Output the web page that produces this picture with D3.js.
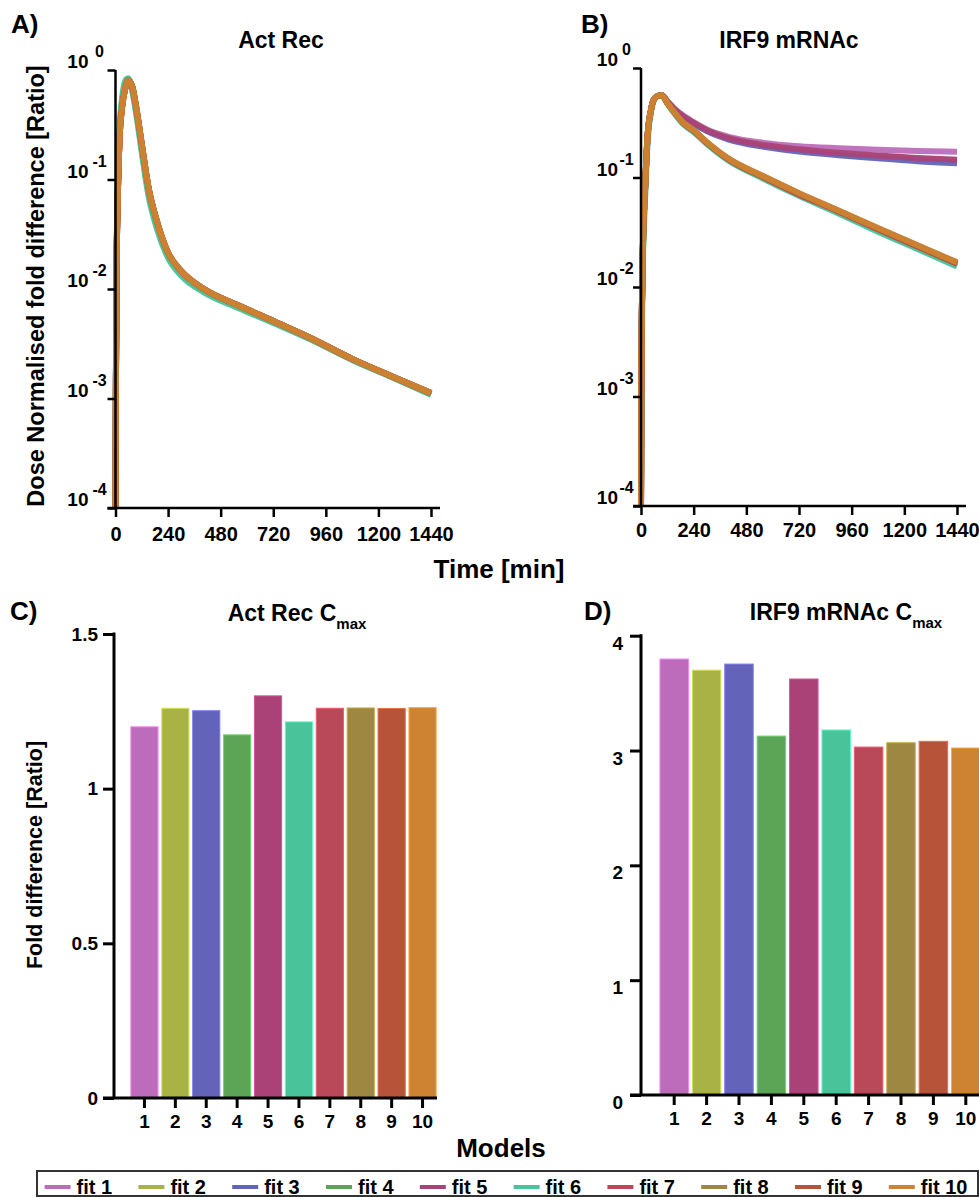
<!DOCTYPE html>
<html>
<head>
<meta charset="utf-8">
<script src="https://cdn.jsdelivr.net/npm/d3@7"></script>
<style>
  body { margin: 0; background: #fff; }
  svg text { font-family: "Liberation Sans", Arial, Helvetica, sans-serif; font-weight: bold; fill: #000; }
</style>
</head>
<body>
<svg id="fig" width="979" height="1197"></svg>
<script>
// ---- data ----
const fitNames = ["fit 1", "fit 2", "fit 3", "fit 4", "fit 5", "fit 6", "fit 7", "fit 8", "fit 9", "fit 10"];
const fitColors = ["#bd6bbb", "#a8b245", "#6263b9", "#5ca556", "#aa4278", "#49c39a", "#b94858", "#9e8740", "#b75338", "#cd8332"];
const modelIds = [1, 2, 3, 4, 5, 6, 7, 8, 9, 10];

const timeTicks = [0, 240, 480, 720, 960, 1200, 1440];
const logTicks = [1e-4, 1e-3, 1e-2, 1e-1, 1];
const logExponents = ["-4", "-3", "-2", "-1", "0"];

// sampling times (min) for the simulated time courses
const sampleTimes = [0, 2, 5, 10, 18, 30, 45, 58, 75, 95, 120, 150, 190, 240, 300, 400, 560, 720, 900, 1080, 1260, 1440];

// Act Rec, dose normalised fold difference, one row per fit
const actRecCurves = [
  [0.0001, 0.0016, 0.016, 0.068, 0.24, 0.49, 0.72, 0.81, 0.71, 0.43, 0.198, 0.081, 0.039, 0.0207, 0.0141, 0.0099, 0.0070, 0.0050, 0.00345, 0.00228, 0.00158, 0.00110],
  [0.0001, 0.0015, 0.015, 0.064, 0.23, 0.47, 0.70, 0.80, 0.72, 0.44, 0.205, 0.084, 0.040, 0.0212, 0.0144, 0.0100, 0.0071, 0.0051, 0.0035, 0.0023, 0.0016, 0.00111],
  [0.0001, 0.0016, 0.016, 0.066, 0.235, 0.48, 0.71, 0.81, 0.71, 0.43, 0.200, 0.082, 0.0395, 0.0209, 0.0143, 0.0100, 0.0070, 0.0050, 0.00345, 0.00229, 0.00159, 0.00110],
  [0.0001, 0.0017, 0.017, 0.070, 0.25, 0.50, 0.73, 0.82, 0.70, 0.42, 0.192, 0.078, 0.038, 0.0203, 0.0139, 0.0098, 0.0069, 0.0050, 0.0034, 0.00227, 0.00158, 0.00109],
  [0.0001, 0.0015, 0.015, 0.063, 0.225, 0.46, 0.69, 0.80, 0.72, 0.45, 0.208, 0.085, 0.0405, 0.0213, 0.0145, 0.0101, 0.0071, 0.0051, 0.0035, 0.0023, 0.0016, 0.00112],
  [0.0001, 0.0020, 0.020, 0.080, 0.28, 0.55, 0.80, 0.84, 0.66, 0.39, 0.175, 0.072, 0.035, 0.0192, 0.0132, 0.0094, 0.0067, 0.0049, 0.0034, 0.00225, 0.00157, 0.00108],
  [0.0001, 0.0015, 0.015, 0.062, 0.225, 0.455, 0.685, 0.80, 0.72, 0.45, 0.210, 0.086, 0.041, 0.0214, 0.0146, 0.0101, 0.0071, 0.0051, 0.0035, 0.0023, 0.0016, 0.00112],
  [0.0001, 0.0015, 0.015, 0.061, 0.222, 0.452, 0.682, 0.80, 0.72, 0.45, 0.210, 0.086, 0.041, 0.0215, 0.0146, 0.0101, 0.0071, 0.0051, 0.0035, 0.0023, 0.0016, 0.00112],
  [0.0001, 0.0015, 0.015, 0.062, 0.224, 0.455, 0.684, 0.80, 0.72, 0.45, 0.209, 0.086, 0.041, 0.0214, 0.0146, 0.0101, 0.0071, 0.0051, 0.0035, 0.0023, 0.0016, 0.00112],
  [0.0001, 0.0015, 0.015, 0.060, 0.22, 0.45, 0.68, 0.80, 0.72, 0.45, 0.210, 0.086, 0.041, 0.0215, 0.0146, 0.0101, 0.0071, 0.0051, 0.0035, 0.0023, 0.0016, 0.00112]
];

// IRF9 mRNAc, dose normalised fold difference, one row per fit
const irf9Curves = [
  [0.0001, 0.0020, 0.0085, 0.030, 0.075, 0.24, 0.41, 0.515, 0.555, 0.565, 0.50, 0.43, 0.37, 0.32, 0.275, 0.235, 0.207, 0.193, 0.185, 0.179, 0.175, 0.172],
  [0.0001, 0.0020, 0.0085, 0.030, 0.075, 0.24, 0.41, 0.515, 0.555, 0.565, 0.495, 0.425, 0.365, 0.315, 0.27, 0.228, 0.197, 0.179, 0.166, 0.157, 0.149, 0.143],
  [0.0001, 0.0020, 0.0085, 0.030, 0.075, 0.24, 0.41, 0.515, 0.555, 0.565, 0.49, 0.42, 0.36, 0.31, 0.265, 0.222, 0.191, 0.173, 0.160, 0.150, 0.141, 0.135],
  [0.0001, 0.0018, 0.0075, 0.027, 0.068, 0.225, 0.40, 0.51, 0.552, 0.562, 0.477, 0.395, 0.315, 0.263, 0.205, 0.144, 0.099, 0.069, 0.048, 0.033, 0.0228, 0.0158],
  [0.0001, 0.0020, 0.0085, 0.030, 0.075, 0.24, 0.41, 0.515, 0.555, 0.565, 0.495, 0.425, 0.365, 0.316, 0.271, 0.229, 0.198, 0.181, 0.168, 0.159, 0.151, 0.145],
  [0.0001, 0.0015, 0.0060, 0.022, 0.060, 0.21, 0.39, 0.50, 0.55, 0.56, 0.475, 0.39, 0.31, 0.26, 0.202, 0.142, 0.097, 0.068, 0.047, 0.032, 0.0222, 0.0154],
  [0.0001, 0.0020, 0.0085, 0.030, 0.075, 0.24, 0.41, 0.515, 0.555, 0.565, 0.48, 0.40, 0.319, 0.267, 0.208, 0.146, 0.100, 0.070, 0.049, 0.0336, 0.0234, 0.0163],
  [0.0001, 0.0020, 0.0085, 0.030, 0.075, 0.24, 0.41, 0.515, 0.555, 0.565, 0.48, 0.40, 0.32, 0.269, 0.21, 0.148, 0.102, 0.0715, 0.0498, 0.0343, 0.0239, 0.0167],
  [0.0001, 0.0020, 0.0085, 0.030, 0.075, 0.24, 0.41, 0.515, 0.555, 0.565, 0.48, 0.40, 0.32, 0.268, 0.209, 0.147, 0.101, 0.071, 0.0495, 0.034, 0.0237, 0.0165],
  [0.0001, 0.0020, 0.0085, 0.030, 0.075, 0.24, 0.41, 0.515, 0.555, 0.565, 0.48, 0.40, 0.32, 0.27, 0.21, 0.148, 0.102, 0.072, 0.050, 0.0345, 0.024, 0.0168]
];

// peak fold difference per model
const actRecCmax = [1.200, 1.260, 1.252, 1.174, 1.300, 1.216, 1.260, 1.261, 1.259, 1.262];
const irf9Cmax = [3.797, 3.700, 3.753, 3.126, 3.623, 3.179, 3.030, 3.068, 3.080, 3.022];
const actRecTicks = [0, 0.5, 1, 1.5];
const irf9Ticks = [0, 1, 2, 3, 4];

// ---- drawing ----
const svg = d3.select("#fig");

function styleAxis(g, width) {
  g.select(".domain").remove();
  g.selectAll(".tick line").attr("stroke", "#000").attr("stroke-width", width);
  g.selectAll(".tick text").attr("fill", "#000");
}

function timeCoursePanel(o) {
  const x = d3.scaleLinear().domain([0, 1440]).range([o.x0, o.x1]);
  const y = d3.scaleLog().domain([1e-4, 1]).range([o.yBottom, o.yTop]);
  const g = svg.append("g");

  // curves, fit 1 first so fit 10 ends on top
  const line = d3.line()
    .x((d, i) => x(sampleTimes[i]))
    .y(d => y(d))
    .curve(d3.curveMonotoneX);
  g.selectAll("path.curve").data(o.curves).join("path")
    .attr("class", "curve")
    .attr("d", line)
    .attr("fill", "none")
    .attr("stroke", (d, i) => fitColors[i])
    .attr("stroke-width", 6)
    .attr("stroke-opacity", 0.95);

  // x axis
  const gx = g.append("g").attr("transform", `translate(0,${o.yBottom})`)
    .call(d3.axisBottom(x).tickValues(timeTicks).tickSize(9).tickSizeOuter(0).tickPadding(o.xPad).tickFormat(d3.format("d")))
    .call(a => styleAxis(a, 2.5));
  gx.selectAll(".tick text").attr("font-size", 20);
  g.append("line").attr("x1", o.x0 - 8).attr("x2", o.x1 + 9)
    .attr("y1", o.yBottom).attr("y2", o.yBottom)
    .attr("stroke", "#000").attr("stroke-width", 2.5);

  // y axis with power-of-ten labels
  g.append("g").attr("transform", `translate(${o.x0},0)`)
    .call(d3.axisLeft(y).tickValues(logTicks).tickSize(8).tickSizeOuter(0).tickFormat(""))
    .call(a => styleAxis(a, 2.5));
  g.append("line").attr("x1", o.x0).attr("x2", o.x0)
    .attr("y1", o.yTop).attr("y2", o.yBottom)
    .attr("stroke", "#000").attr("stroke-width", 2.5);
  logTicks.forEach((v, i) => {
    g.append("text").attr("x", o.x0 - o.baseEnd).attr("y", y(v) - 2)
      .attr("text-anchor", "end").attr("font-size", 19).text("10");
    g.append("text").attr("x", o.x0 - o.expMid).attr("y", y(v) - 13)
      .attr("text-anchor", "middle").attr("font-size", 16).text(logExponents[i]);
  });

  // title and panel letter
  g.append("text").attr("x", o.titleX).attr("y", 48).attr("text-anchor", "middle")
    .attr("font-size", 23).text(o.title);
  g.append("text").attr("x", o.letterX).attr("y", 33).attr("font-size", 26).text(o.letter);
}

timeCoursePanel({
  curves: actRecCurves, x0: 115.5, x1: 431, yBottom: 508, yTop: 70,
  xPad: 10, baseEnd: 27, expMid: 16, title: "Act Rec", titleX: 281, letter: "A)", letterX: 11
});
timeCoursePanel({
  curves: irf9Curves, x0: 641, x1: 957, yBottom: 506, yTop: 68,
  xPad: 8, baseEnd: 23, expMid: 14.5, title: "IRF9 mRNAc", titleX: 789, letter: "B)", letterX: 581
});

// shared labels of the time-course row
svg.append("text").attr("transform", "translate(44,286) rotate(-90)")
  .attr("text-anchor", "middle").attr("font-size", 23.5)
  .text("Dose Normalised fold difference [Ratio]");
svg.append("text").attr("x", 499).attr("y", 578).attr("text-anchor", "middle")
  .attr("font-size", 26).text("Time [min]");

function cmaxPanel(o) {
  const x = d3.scaleBand().domain(modelIds).range([o.bx0, o.bx1]).paddingInner(0.12).paddingOuter(0.06);
  const y = d3.scaleLinear().domain([0, o.yMax]).range([o.yBottom, o.yTop]);
  const g = svg.append("g");

  g.selectAll("rect.bar").data(o.values).join("rect")
    .attr("class", "bar")
    .attr("x", (d, i) => x(modelIds[i]))
    .attr("width", x.bandwidth())
    .attr("y", d => y(d))
    .attr("height", d => y(0) - y(d))
    .attr("fill", (d, i) => fitColors[i])
    .attr("stroke", (d, i) => d3.color(fitColors[i]).brighter(0.7))
    .attr("stroke-width", 1);

  const gx = g.append("g").attr("transform", `translate(0,${o.yBottom})`)
    .call(d3.axisBottom(x).tickSize(10).tickPadding(7).tickSizeOuter(0))
    .call(a => styleAxis(a, 3));
  gx.selectAll(".tick text").attr("font-size", 19);
  g.append("line").attr("x1", o.ax - 11).attr("x2", o.axisEnd)
    .attr("y1", o.yBottom).attr("y2", o.yBottom)
    .attr("stroke", "#000").attr("stroke-width", 3);

  const gy = g.append("g").attr("transform", `translate(${o.ax},0)`)
    .call(d3.axisLeft(y).tickValues(o.ticks).tickSize(11).tickPadding(o.yPad).tickSizeOuter(0).tickFormat(d => d))
    .call(a => styleAxis(a, 3));
  gy.selectAll(".tick text").attr("font-size", 19).attr("dy", o.labelDy);
  g.append("line").attr("x1", o.ax).attr("x2", o.ax)
    .attr("y1", o.yTop - 1.5).attr("y2", o.yBottom)
    .attr("stroke", "#000").attr("stroke-width", 3);

  const t = g.append("text").attr("x", o.titleX).attr("y", o.titleY)
    .attr("text-anchor", "middle").attr("font-size", 23);
  t.append("tspan").text(o.title);
  t.append("tspan").attr("font-size", 15).attr("dy", 8).text("max");
  g.append("text").attr("x", o.letterX).attr("y", 620).attr("font-size", 26).text(o.letter);
}

cmaxPanel({
  values: actRecCmax, ticks: actRecTicks, yMax: 1.5, bx0: 129, bx1: 438, ax: 114, axisEnd: 437,
  yBottom: 1098, yTop: 634, yPad: 5, labelDy: "0.32em",
  title: "Act Rec C", titleX: 297, titleY: 621, letter: "C)", letterX: 10
});
cmaxPanel({
  values: irf9Cmax, ticks: irf9Ticks, yMax: 4, bx0: 658, bx1: 982, ax: 641, axisEnd: 982,
  yBottom: 1095, yTop: 635.7, yPad: 7, labelDy: "0.71em",
  title: "IRF9 mRNAc C", titleX: 846, titleY: 620, letter: "D)", letterX: 584
});

svg.append("text").attr("transform", "translate(42,855) rotate(-90)")
  .attr("text-anchor", "middle").attr("font-size", 21.5)
  .text("Fold difference [Ratio]");
svg.append("text").attr("x", 501).attr("y", 1157).attr("text-anchor", "middle")
  .attr("font-size", 26).text("Models");

// legend
const legend = svg.append("g");
legend.append("rect").attr("x", 37).attr("y", 1171).attr("width", 941).attr("height", 25)
  .attr("fill", "none").attr("stroke", "#333").attr("stroke-width", 2);
const legendX = d3.scaleLinear().domain([0, 9]).range([44.6, 888.8]);
fitNames.forEach((name, i) => {
  const lx = legendX(i);
  legend.append("line").attr("x1", lx).attr("x2", lx + 26).attr("y1", 1187).attr("y2", 1187)
    .attr("stroke", fitColors[i]).attr("stroke-width", 4);
  legend.append("text").attr("x", lx + 32).attr("y", 1194).attr("font-size", 20).text(name);
});
</script>
</body>
</html>
